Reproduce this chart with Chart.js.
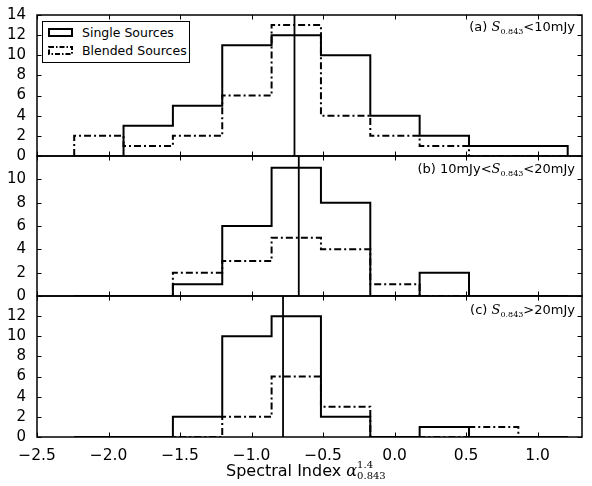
<!DOCTYPE html>
<html lang="en">
<head>
    <meta charset="UTF-8">
    <title>Spectral Index Histograms</title>
    <script src="https://cdn.jsdelivr.net/npm/chart.js"></script>
    <style>
        body { margin: 0; background: #fff; }
        #fig { position: relative; width: 592px; height: 486px; overflow: hidden; font-family: "DejaVu Sans", sans-serif; }
        #fig canvas { position: absolute; left: 0; top: 0; }
        .legend { position: absolute; left: 42px; top: 21px; width: 146px; height: 40px; border: 1px solid #000; background: #fff; font-size: 12.5px; }
        .legend div { position: absolute; left: 5px; height: 16px; line-height: 16px; white-space: nowrap; }
        .legend svg { vertical-align: middle; margin-right: 9px; position: relative; top: -1px; }
        .panel-label { position: absolute; right: 17px; font-size: 13px; white-space: nowrap; }
        .math { font-family: "DejaVu Serif", serif; font-style: italic; }
        .sub { font-family: "DejaVu Serif", serif; font-size: 8px; position: relative; top: 3px; }
        .xtitle { position: absolute; left: 226px; top: 460px; font-size: 16px; white-space: nowrap; }
        .stack { display: inline-block; vertical-align: middle; font-family: "DejaVu Serif", serif; font-size: 10px; line-height: 11px; position: relative; top: -1px; }
    </style>
</head>
<body>
<div id="fig">
    <canvas id="panelA" width="592" height="486"></canvas>
    <canvas id="panelB" width="592" height="486"></canvas>
    <canvas id="panelC" width="592" height="486"></canvas>

    <div class="legend">
        <div style="top: 3px;"><svg width="25" height="9"><rect x="1" y="1" width="23" height="7" fill="none" stroke="#000" stroke-width="2"/></svg>Single Sources</div>
        <div style="top: 21px;"><svg width="25" height="9"><rect x="1" y="1" width="23" height="7" fill="none" stroke="#000" stroke-width="2" stroke-dasharray="5,2,1.5,2"/></svg>Blended Sources</div>
    </div>

    <div class="panel-label" style="top: 19px;">(a) <span class="math">S</span><span class="sub">0.843</span>&lt;10mJy</div>
    <div class="panel-label" style="top: 161px;">(b) 10mJy&lt;<span class="math">S</span><span class="sub">0.843</span>&lt;20mJy</div>
    <div class="panel-label" style="top: 302px;">(c) <span class="math">S</span><span class="sub">0.843</span>&gt;20mJy</div>

    <div class="xtitle">Spectral Index <span class="math">α</span><span class="stack">1.4<br>0.843</span></div>
</div>

<script>
    // bin edges of the histograms (spectral index)
    const edges = [-2.24, -1.895, -1.55, -1.205, -0.86, -0.515, -0.17, 0.175, 0.52, 0.865, 1.21];

    // counts per bin, one pair per flux bin
    const singleA  = [0, 3, 5, 11, 12, 10, 4, 2, 1, 1];
    const blendedA = [2, 1, 2, 6, 13, 4, 2, 1, 0, 0];
    const singleB  = [0, 0, 1, 6, 11, 8, 0, 2, 0, 0];
    const blendedB = [0, 0, 2, 3, 5, 4, 1, 0, 0, 0];
    const singleC  = [0, 0, 2, 10, 12, 2, 0, 1, 0, 0];
    const blendedC = [0, 0, 0, 2, 6, 3, 0, 0, 1, 0];

    // median spectral index of each panel (vertical line)
    const medians = [-0.70, -0.67, -0.78];

    // axis ranges
    const xRange = [-2.5, 1.31];
    const yMaxes = [14, 12, 14];

    // turn bin counts into a step outline like histtype='step'
    function stepOutline(counts) {
        const pts = [{ x: edges[0], y: 0 }];
        counts.forEach((c, i) => {
            pts.push({ x: edges[i], y: c });
            pts.push({ x: edges[i + 1], y: c });
        });
        pts.push({ x: edges[edges.length - 1], y: 0 });
        return pts;
    }

    // frame and inward ticks on all four sides
    const frameTicks = {
        id: 'frameTicks',
        afterDatasetsDraw(chart) {
            const { ctx, chartArea: a, scales } = chart;
            const len = 4.5;
            ctx.save();
            ctx.strokeStyle = '#000';
            ctx.lineWidth = 1;
            ctx.beginPath();
            scales.x.ticks.forEach(t => {
                const px = Math.round(scales.x.getPixelForValue(t.value)) + 0.5;
                ctx.moveTo(px, a.bottom); ctx.lineTo(px, a.bottom - len);
                ctx.moveTo(px, a.top); ctx.lineTo(px, a.top + len);
            });
            scales.y.ticks.forEach(t => {
                const py = Math.round(scales.y.getPixelForValue(t.value)) + 0.5;
                ctx.moveTo(a.left, py); ctx.lineTo(a.left + len, py);
                ctx.moveTo(a.right, py); ctx.lineTo(a.right - len, py);
            });
            ctx.stroke();
            ctx.lineWidth = 1.5;
            ctx.strokeRect(a.left, a.top, a.right - a.left, a.bottom - a.top);
            ctx.restore();
        }
    };

    function fmtX(v) {
        if (Math.abs(v) < 1e-9) return '0.0';
        return v.toFixed(1).replace('-', '\u2212');
    }

    function makePanel(id, single, blended, median, yMax, top, bottom, showX, hideTop) {
        const ctx = document.getElementById(id).getContext('2d');
        return new Chart(ctx, {
            type: 'line',
            data: {
                datasets: [
                    {
                        label: 'Single Sources',
                        data: stepOutline(single),
                        borderColor: '#000',
                        borderWidth: 2,
                        pointRadius: 0,
                        fill: false
                    },
                    {
                        label: 'Blended Sources',
                        data: stepOutline(blended),
                        borderColor: '#000',
                        borderWidth: 2,
                        borderDash: [7, 3, 2, 3],
                        pointRadius: 0,
                        fill: false
                    },
                    {
                        label: 'Median',
                        data: [{ x: median, y: 0 }, { x: median, y: yMax }],
                        borderColor: '#000',
                        borderWidth: 1.8,
                        pointRadius: 0,
                        fill: false
                    }
                ]
            },
            options: {
                responsive: false,
                animation: false,
                devicePixelRatio: 1,
                layout: { padding: { left: 0, right: 10, top: top, bottom: bottom } },
                plugins: { legend: { display: false }, tooltip: { enabled: false } },
                scales: {
                    x: {
                        type: 'linear',
                        min: xRange[0],
                        max: xRange[1],
                        display: showX,
                        grid: { display: false },
                        border: { display: false },
                        ticks: {
                            stepSize: 0.5,
                            includeBounds: false,
                            autoSkip: false,
                            color: '#000',
                            padding: 2,
                            maxRotation: 0,
                            font: { family: 'DejaVu Sans', size: 15.5 },
                            callback: v => fmtX(v)
                        },
                        afterFit: s => { s.height = showX ? 26 : 0; }
                    },
                    y: {
                        min: 0,
                        max: yMax,
                        grid: { display: false },
                        border: { display: false },
                        ticks: {
                            stepSize: 2,
                            autoSkip: false,
                            color: '#000',
                            padding: 3,
                            font: { family: 'DejaVu Sans', size: 15 },
                            callback: v => (hideTop && v === yMax) ? '' : String(v)
                        },
                        afterFit: s => { s.width = 37; }
                    }
                }
            },
            plugins: [frameTicks]
        });
    }

    makePanel('panelA', singleA, blendedA, medians[0], yMaxes[0], 15, 330, false, false);
    makePanel('panelB', singleB, blendedB, medians[1], yMaxes[1], 156, 190, false, true);
    makePanel('panelC', singleC, blendedC, medians[2], yMaxes[2], 296, 23, true, true);
</script>
</body>
</html>
